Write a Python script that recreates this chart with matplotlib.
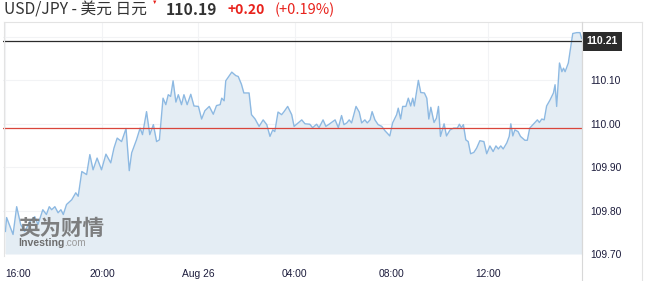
import numpy as np
import matplotlib
matplotlib.use("Agg")
import matplotlib.pyplot as plt
from matplotlib.lines import Line2D

# minutes after 16:00 (Aug 25) and USD/JPY quote
minutes = [0, 3, 19, 28, 38, 48, 61, 73, 81, 93, 102, 109, 115, 123, 131, 138, 144, 152, 165, 175,
           181, 190, 202, 210, 218, 228, 239, 250, 262, 270, 278, 289, 300, 308, 314, 326, 335, 341,
           351, 359, 368, 376, 383, 392, 399, 405, 411, 417, 424, 430, 438, 444, 452, 461, 469, 480,
           488, 496, 507, 517, 525, 534, 538, 544, 548, 563, 573, 579, 587, 593, 606, 612, 621, 631,
           641, 650, 658, 665, 670, 678, 687, 693, 702, 712, 718, 728, 737, 745, 757, 764, 774, 780,
           790, 797, 805, 820, 828, 836, 842, 849, 855, 861, 872, 880, 886, 894, 900, 907, 912, 919,
           927, 936, 944, 956, 963, 973, 977, 983, 988, 996, 1002, 1008, 1013, 1017, 1027, 1033, 1042,
           1048, 1053, 1058, 1066, 1072, 1077, 1082, 1091, 1097, 1106, 1115, 1124, 1129, 1134, 1139,
           1145, 1151, 1157, 1165, 1172, 1180, 1190, 1197, 1205, 1213, 1220, 1226, 1232, 1238, 1247,
           1253, 1257, 1262, 1267, 1275, 1281, 1292, 1298, 1304, 1314, 1323, 1328, 1334, 1340, 1346,
           1354, 1363, 1367, 1371, 1378, 1384, 1388, 1392, 1400, 1411, 1421, 1429, 1433]
price = [109.752, 109.784, 109.745, 109.809, 109.768, 109.752, 109.775, 109.786, 109.768, 109.802,
         109.791, 109.809, 109.802, 109.809, 109.795, 109.802, 109.791, 109.814, 109.825, 109.841,
         109.833, 109.890, 109.883, 109.929, 109.894, 109.921, 109.894, 109.930, 109.910, 109.944,
         109.967, 109.959, 109.989, 109.892, 109.933, 109.963, 109.990, 109.975, 110.028, 109.975,
         109.998, 109.959, 109.963, 110.059, 110.044, 110.067, 110.063, 110.099, 110.050, 110.067,
         110.044, 110.067, 110.044, 110.068, 110.041, 110.040, 110.011, 110.030, 110.040, 110.022,
         110.042, 110.044, 110.059, 110.053, 110.099, 110.119, 110.111, 110.109, 110.091, 110.071,
         110.071, 110.021, 110.011, 109.994, 110.009, 109.998, 109.971, 109.986, 109.982, 110.027,
         110.021, 110.028, 110.040, 110.021, 109.994, 110.002, 110.009, 110.000, 109.999, 109.991,
         109.999, 109.991, 110.009, 109.994, 109.999, 110.009, 109.991, 110.019, 109.998, 110.002,
         110.009, 110.002, 110.040, 110.027, 110.002, 110.009, 110.002, 110.009, 110.028, 110.009,
         109.998, 109.994, 109.984, 109.972, 110.002, 110.021, 110.036, 110.011, 110.040, 110.040,
         110.059, 110.041, 110.059, 110.041, 110.100, 110.072, 110.071, 110.059, 110.011, 110.038,
         110.003, 110.013, 110.040, 109.971, 110.000, 109.972, 109.986, 109.990, 109.990, 109.999,
         109.991, 109.998, 109.963, 109.959, 109.931, 109.934, 109.944, 109.961, 109.959, 109.931,
         109.949, 109.936, 109.949, 109.942, 109.949, 109.942, 109.956, 109.971, 110.000, 109.972,
         109.986, 109.982, 109.971, 109.962, 109.962, 109.990, 110.000, 110.009, 110.003, 110.011,
         110.009, 110.041, 110.054, 110.071, 110.090, 110.040, 110.140, 110.120, 110.128, 110.120,
         110.140, 110.208, 110.210, 110.210, 110.197]

tick_minutes = [0, 240, 480, 720, 960, 1200]
tick_labels = ["16:00", "20:00", "Aug 26", "04:00", "08:00", "12:00"]
y_ticks = [109.70, 109.80, 109.90, 110.00, 110.10, 110.20]

prev_close = 109.99
last_price = 110.19
last_label = "110.21"
title_pair = "USD/JPY - 美元 日元"
title_last = "110.19"
title_chg = "+0.20"
title_pct = "(+0.19%)"

plt.rcParams["font.family"] = ["Liberation Sans", "DejaVu Sans"]

W, H = 645, 281
fig = plt.figure(figsize=(W / 100, H / 100), dpi=100)
ax = fig.add_axes([3 / W, 1 - 254 / H, 579 / W, 232 / H])

ax.fill_between(minutes, price, 109.70, color="#e4edf4", lw=0)
ax.plot(minutes, price, color="#8db9e2", lw=1.0)
ax.axhline(prev_close, color="#d9453b", lw=0.9)
ax.axhline(last_price, color="#2b2b2b", lw=0.9)

ax.set_xlim(-6, 1434)
ax.set_ylim(109.70, 110.2345)
ax.set_xticks(tick_minutes)
ax.set_xticklabels(tick_labels)
ax.set_yticks(y_ticks)
ax.set_yticklabels([f"{v:.2f}" for v in y_ticks[:-1]] + [""])
ax.yaxis.tick_right()
ax.tick_params(axis="both", length=0, labelsize=7.4, colors="#1c1c3c")
ax.tick_params(axis="x", pad=11)
ax.tick_params(axis="y", pad=6)
ax.get_xticklabels()[0].set_horizontalalignment("left")
ax.grid(True, color="#f2f3f5", lw=0.8)
ax.set_axisbelow(True)

for s in ["left", "top", "bottom"]:
    ax.spines[s].set_visible(False)
ax.spines["right"].set_color("#d8d8d8")

# frame around the chart panel
fig.add_artist(Line2D([4 / W, 642 / W], [1 - 22 / H] * 2, color="#e3e3e3", lw=0.8))
fig.add_artist(Line2D([3.5 / W] * 2, [1 - 22 / H, 1 - 256 / H], color="#e3e3e3", lw=0.8))
fig.add_artist(Line2D([582 / W] * 2, [1 - 22 / H, 0], color="#d8d8d8", lw=0.8))
fig.add_artist(Line2D([642 / W] * 2, [1 - 22 / H, 0], color="#e3e3e3", lw=0.8))

# last price tag on the right axis
ax.annotate(last_label, xy=(1, last_price), xycoords=("axes fraction", "data"),
            xytext=(3.5, 0), textcoords="offset points", va="center", ha="left",
            fontsize=7.6, fontweight="bold", color="white",
            bbox=dict(boxstyle="square,pad=0.4", fc="#2b2b2b", ec="none"))

# header
cjk = ["Noto Sans CJK SC", "DejaVu Sans"]
fig.text(4 / W, 1 - 10 / H, title_pair, family=cjk, fontsize=11.3, color="#333333", va="center")
fig.text(166 / W, 1 - 10 / H, title_last, family=cjk, fontsize=11.3, fontweight="bold",
         color="#333333", va="center")
fig.text(228 / W, 1 - 10 / H, title_chg, family=cjk, fontsize=10, fontweight="bold",
         color="#e8221c", va="center")
fig.text(275 / W, 1 - 10 / H, title_pct, family=cjk, fontsize=10.5, color="#e8221c", va="center")
fig.text(155 / W, 1 - 2.5 / H, "▼", fontsize=4, color="#e8221c", ha="center", va="center")

# watermark
fig.text(18 / W, 1 - 228 / H, "英为财情", family=cjk, fontsize=15.5, fontweight="bold",
         color="#727272", alpha=0.9, va="center")
wm = fig.text(18 / W, 1 - 243 / H, "Investing", fontsize=7.6, fontweight="bold",
              color="#6e6e6e", va="center")
fig.canvas.draw()
bb = wm.get_window_extent()
fig.text(bb.x1 / W, 1 - 243 / H, ".com", fontsize=7.2, color="#9a9a9a", va="center")

fig.savefig("out.png", dpi=100)
